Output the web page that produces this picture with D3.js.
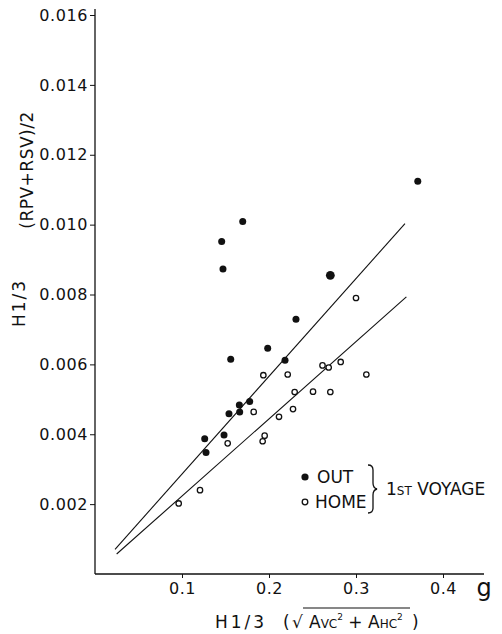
<!DOCTYPE html>
<html>
<head>
<meta charset="utf-8">
<script src="https://cdn.jsdelivr.net/npm/d3@7"></script>
<style>
  html, body { margin: 0; padding: 0; background: #fff; }
  svg { display: block; }
  text { font-family: "DejaVu Sans", sans-serif; fill: #111; }
</style>
</head>
<body>
<svg id="chart" width="502" height="634"></svg>
<script>
// ---- data ----
const outX = [0.371, 0.2705, 0.1698, 0.1456, 0.1471, 0.231, 0.1985, 0.156, 0.2184, 0.1659, 0.1778, 0.154, 0.1663, 0.1483, 0.1261, 0.1276];
const outY = [0.01124, 0.00855, 0.01009, 0.00952, 0.00873, 0.00729, 0.00646, 0.00615, 0.00612, 0.00484, 0.00494, 0.00459, 0.00464, 0.00398, 0.00387, 0.00348];
const outBig = [false, true, false, false, false, false, false, false, false, false, false, false, false, false, false, false];

const homeX = [0.300, 0.2615, 0.2686, 0.2824, 0.3119, 0.1935, 0.2215, 0.2295, 0.2506, 0.2705, 0.1824, 0.2115, 0.2276, 0.1525, 0.195, 0.1927, 0.1207, 0.0962];
const homeY = [0.0079, 0.00597, 0.00591, 0.00607, 0.00571, 0.00569, 0.00571, 0.00521, 0.00522, 0.00521, 0.00464, 0.0045, 0.00472, 0.00374, 0.00396, 0.0038, 0.0024, 0.00202];

// fitted lines (end points)
const outLineX = [0.023, 0.3563];
const outLineY = [0.000706, 0.01003];
const homeLineX = [0.0249, 0.3579];
const homeLineY = [0.000572, 0.00793];

const xTicks = [0.1, 0.2, 0.3, 0.4];
const yTicks = [0.002, 0.004, 0.006, 0.008, 0.010, 0.012, 0.014, 0.016];

// ---- drawing ----
const svg = d3.select("#chart");
const x = d3.scaleLinear().domain([0, 0.4]).range([95, 443]);
const y = d3.scaleLinear().domain([0, 0.016]).range([574, 15]);

// axes lines
svg.append("line").attr("x1", x(0)).attr("x2", 484).attr("y1", y(0)).attr("y2", y(0))
  .attr("stroke", "#111").attr("stroke-width", 1.3);
svg.append("line").attr("x1", x(0)).attr("x2", x(0)).attr("y1", y(0)).attr("y2", 9)
  .attr("stroke", "#111").attr("stroke-width", 1.3);

const yAxis = d3.axisLeft(y).tickValues(yTicks).tickFormat(d3.format(".3f"))
  .tickSize(5).tickPadding(2).tickSizeOuter(0);
const gy = svg.append("g").attr("transform", `translate(${x(0)},0)`).call(yAxis);
gy.select(".domain").remove();
gy.selectAll(".tick line").attr("stroke", "#111").attr("stroke-width", 1);
gy.selectAll(".tick text").style("font-size", "16px").style("fill", "#111")
  .attr("font-family", "DejaVu Sans").style("letter-spacing", "0.6px");

const xAxis = d3.axisBottom(x).tickValues(xTicks).tickFormat(d3.format(".1f"))
  .tickSize(4).tickPadding(5).tickSizeOuter(0);
const gx = svg.append("g").attr("transform", `translate(0,${y(0)})`).call(xAxis);
gx.select(".domain").remove();
gx.selectAll(".tick line").attr("stroke", "#111").attr("stroke-width", 1);
gx.selectAll(".tick text").style("font-size", "16px").style("fill", "#111")
  .attr("font-family", "DejaVu Sans").style("letter-spacing", "0.6px");

// unit "g"
svg.append("text").attr("x", 484).attr("y", 596).attr("text-anchor", "middle")
  .style("font-size", "24px").text("g");

// fitted lines
const lineGen = d3.line().x(d => x(d[0])).y(d => y(d[1]));
svg.append("path").datum(d3.zip(outLineX, outLineY)).attr("d", lineGen)
  .attr("fill", "none").attr("stroke", "#111").attr("stroke-width", 1.1);
svg.append("path").datum(d3.zip(homeLineX, homeLineY)).attr("d", lineGen)
  .attr("fill", "none").attr("stroke", "#111").attr("stroke-width", 1.1);

// points
svg.append("g").selectAll("circle").data(d3.range(outX.length)).join("circle")
  .attr("cx", i => x(outX[i])).attr("cy", i => y(outY[i]))
  .attr("r", i => outBig[i] ? 4.4 : 3.5).attr("fill", "#111");
svg.append("g").selectAll("circle").data(d3.range(homeX.length)).join("circle")
  .attr("cx", i => x(homeX[i])).attr("cy", i => y(homeY[i]))
  .attr("r", 2.7).attr("fill", "#fff").attr("stroke", "#111").attr("stroke-width", 1.3);

// legend
svg.append("circle").attr("cx", 305).attr("cy", 477).attr("r", 3.6).attr("fill", "#111");
svg.append("circle").attr("cx", 305).attr("cy", 502).attr("r", 2.8).attr("fill", "#fff")
  .attr("stroke", "#111").attr("stroke-width", 1.3);
svg.append("text").attr("x", 317).attr("y", 483).style("font-size", "17px").text("OUT");
svg.append("text").attr("x", 315).attr("y", 508).style("font-size", "17px").text("HOME");
svg.append("path")
  .attr("d", "M368,465 Q373,465 373,470 L373,483 Q373,488 377,489 Q373,490 373,495 L373,508 Q373,513 368,513")
  .attr("fill", "none").attr("stroke", "#111").attr("stroke-width", 1.3);
const voy = svg.append("text").attr("x", 386).attr("y", 495).style("font-size", "17px");
voy.append("tspan").text("1");
voy.append("tspan").style("font-size", "12px").text("ST");
voy.append("tspan").text(" VOYAGE");

// y-axis title
svg.append("text").attr("transform", "translate(33,170) rotate(-90)").attr("text-anchor", "middle")
  .style("font-size", "17px").style("letter-spacing", "0.5px").text("(RPV+RSV)/2");
svg.append("text").attr("transform", "translate(25,303) rotate(-90)").attr("text-anchor", "middle")
  .style("font-size", "17px").style("letter-spacing", "2px").text("H1/3");

// x-axis title
svg.append("text").attr("x", 215).attr("y", 628).style("font-size", "17px")
  .style("letter-spacing", "3px").text("H1/3");
svg.append("text").attr("x", 283).attr("y", 628).style("font-size", "17px").text("(");
svg.append("text").attr("x", 292).attr("y", 628).style("font-size", "17px").text("√");
svg.append("line").attr("x1", 303).attr("x2", 410).attr("y1", 608).attr("y2", 608)
  .attr("stroke", "#111").attr("stroke-width", 1.1);
const rad = svg.append("text").attr("x", 309).attr("y", 628).style("font-size", "17px");
rad.append("tspan").text("A");
rad.append("tspan").style("font-size", "12px").text("VC");
rad.append("tspan").style("font-size", "9px").attr("dy", -8).text("2");
rad.append("tspan").attr("dy", 8).text(" + A");
rad.append("tspan").style("font-size", "12px").text("HC");
rad.append("tspan").style("font-size", "9px").attr("dy", -8).text("2");
svg.append("text").attr("x", 412).attr("y", 628).style("font-size", "17px").text(")");
</script>
</body>
</html>
